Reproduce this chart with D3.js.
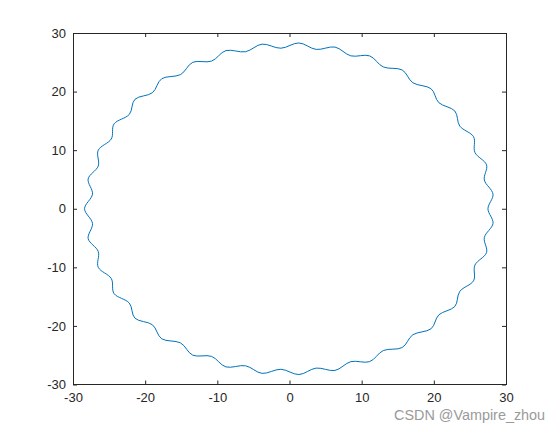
<!DOCTYPE html>
<html>
<head>
<meta charset="utf-8">
<script src="https://cdn.jsdelivr.net/npm/d3@7"></script>
<style>
  html, body { margin: 0; padding: 0; background: #ffffff; }
  #viz { width: 560px; height: 433px; }
</style>
</head>
<body>
<div id="viz"></div>
<script>
// points (outer and inner turns of each wave), counter-clockwise from (27.5, 0)
var curveX = [
  27.5, 28.2, 27.0, 27.3, 25.7, 25.5, 23.6, 22.9, 20.7, 19.6,
  17.1, 15.6, 13.0, 11.1, 8.5, 6.3, 3.7, 1.3, -1.2, -3.8,
  -6.1, -8.8, -10.8, -13.4, -15.1, -17.7, -19.0, -21.4, -22.2, -24.3,
  -24.7, -26.5, -26.5, -27.9, -27.3, -28.4, -27.3, -27.9, -26.5, -26.5,
  -24.7, -24.3, -22.2, -21.4, -19.0, -17.7, -15.1, -13.4, -10.8, -8.8,
  -6.1, -3.8, -1.2, 1.3, 3.7, 6.3, 8.5, 11.1, 13.0, 15.6,
  17.1, 19.6, 20.7, 22.9, 23.6, 25.5, 25.7, 27.3, 27.0, 28.2
];
var curveY = [
  0.0, 2.5, 4.9, 7.5, 9.6, 12.3, 14.1, 16.7, 18.1, 20.5,
  21.5, 23.7, 24.2, 26.1, 26.1, 27.6, 27.2, 28.3, 27.4, 28.1,
  26.8, 27.0, 25.2, 25.0, 22.9, 22.2, 19.8, 18.7, 16.1, 14.5,
  11.9, 10.0, 7.3, 5.1, 2.5, 0.0, -2.5, -5.1, -7.3, -10.0,
  -11.9, -14.5, -16.1, -18.7, -19.8, -22.2, -22.9, -25.0, -25.2, -27.0,
  -26.8, -28.1, -27.4, -28.3, -27.2, -27.6, -26.1, -26.1, -24.2, -23.7,
  -21.5, -20.5, -18.1, -16.7, -14.1, -12.3, -9.6, -7.5, -4.9, -2.5
];

var xTicks = [-30, -20, -10, 0, 10, 20, 30];
var yTicks = [-30, -20, -10, 0, 10, 20, 30];
var watermark = "CSDN @Vampire_zhou";

var width = 560, height = 433;
var box = {left: 73, right: 506, top: 33, bottom: 384.5};
var axisColour = "#262626";
var tickLen = 4;

var svg = d3.select("#viz")
  .append("svg")
  .attr("width", width)
  .attr("height", height)
  .style("font-family", "'Liberation Sans', Arial, sans-serif");

var x = d3.scaleLinear().domain([-30, 30]).range([box.left, box.right]);
var y = d3.scaleLinear().domain([-30, 30]).range([box.bottom, box.top]);

// plain hyphen for negatives, like the original
var fmt = function(d) { return String(d); };

// bottom and left axes, ticks pointing inwards
var xAxis = svg.append("g")
  .attr("transform", "translate(0," + box.bottom + ")")
  .call(d3.axisBottom(x).tickValues(xTicks).tickFormat(fmt).tickSize(-tickLen).tickPadding(8).tickSizeOuter(0));
var yAxis = svg.append("g")
  .attr("transform", "translate(" + box.left + ",0)")
  .call(d3.axisLeft(y).tickValues(yTicks).tickFormat(fmt).tickSize(-tickLen).tickPadding(7).tickSizeOuter(0));

// top and right: ticks only
svg.append("g")
  .attr("transform", "translate(0," + box.top + ")")
  .call(d3.axisTop(x).tickValues(xTicks).tickSize(-tickLen).tickSizeOuter(0).tickFormat(""));
svg.append("g")
  .attr("transform", "translate(" + box.right + ",0)")
  .call(d3.axisRight(y).tickValues(yTicks).tickSize(-tickLen).tickSizeOuter(0).tickFormat(""));

svg.selectAll(".domain").remove();
svg.selectAll(".tick line").attr("stroke", axisColour).attr("stroke-width", 1);
svg.selectAll(".tick text")
  .attr("fill", axisColour)
  .style("font-size", "13px");
xAxis.selectAll(".tick text").attr("dy", "0.71em");

// box
svg.append("rect")
  .attr("x", box.left)
  .attr("y", box.top)
  .attr("width", box.right - box.left)
  .attr("height", box.bottom - box.top)
  .attr("fill", "none")
  .attr("stroke", axisColour)
  .attr("stroke-width", 1)
  .attr("shape-rendering", "crispEdges");

// the wavy ring
var pts = curveX.map(function(d, i) { return [d, curveY[i]]; });
var line = d3.line()
  .x(function(d) { return x(d[0]); })
  .y(function(d) { return y(d[1]); })
  .curve(d3.curveCatmullRomClosed.alpha(0));

svg.append("path")
  .datum(pts)
  .attr("d", line)
  .attr("fill", "none")
  .attr("stroke", "#0072BD")
  .attr("stroke-width", 1);

svg.append("text")
  .attr("x", 394)
  .attr("y", 419.5)
  .attr("fill", "#9a9a9a")
  .style("font-size", "14.4px")
  .text(watermark);
</script>
</body>
</html>
